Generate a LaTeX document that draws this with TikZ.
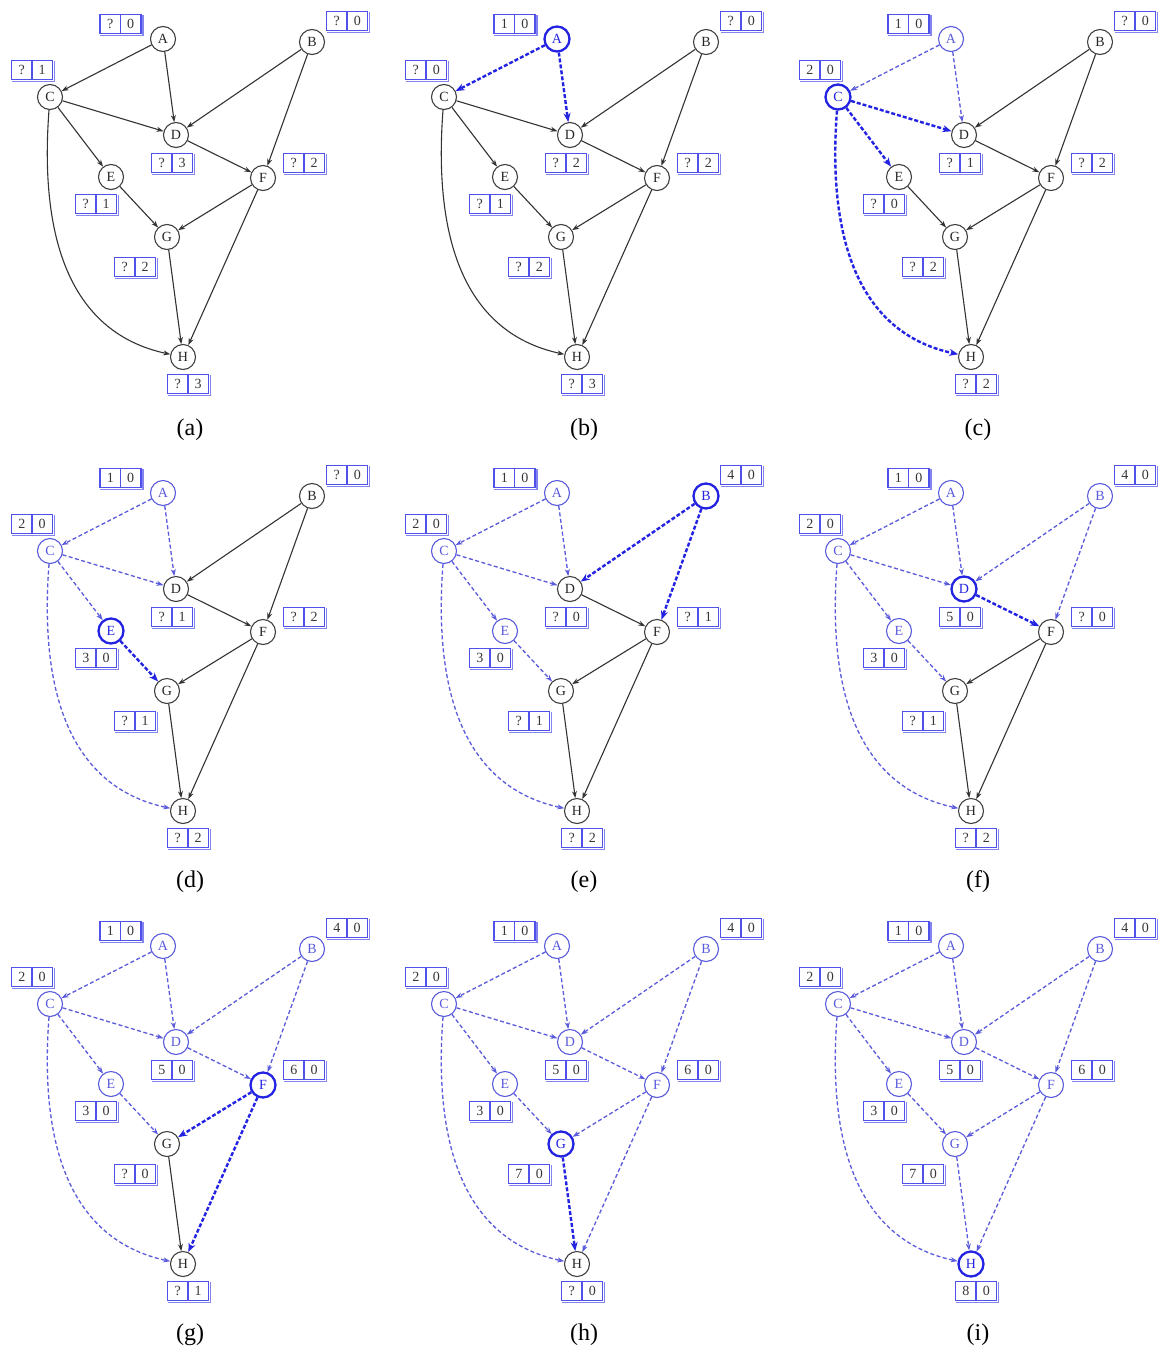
\documentclass[tikz,border=0pt]{standalone}
\usepackage{fontspec}
\setmainfont{Liberation Serif}
\usetikzlibrary{arrows.meta}

\definecolor{doneblue}{RGB}{90,90,220}
\definecolor{curblue}{RGB}{35,35,225}
\definecolor{lblblue}{RGB}{80,80,235}
\definecolor{ink}{RGB}{55,55,55}

\tikzset{
 vtx/.style={circle, draw=black!75, line width=1.1pt, fill=white, minimum size=25pt, inner sep=0pt, font=\fontsize{14}{14}\selectfont, text=black!85},
 vis/.style={draw=doneblue, text=doneblue},
 cur/.style={draw=curblue, text=curblue, line width=2.3pt},
 lbl/.style={draw=lblblue, line width=1.5pt, fill=white, minimum width=41pt, minimum height=19pt, inner sep=0pt, font=\fontsize{14}{14}\selectfont, text=ink},
 lbldiv/.style={draw=lblblue, line width=1.1pt},
 lblshade/.style={draw=lblblue!70, line width=1.4pt},
 conn/.style={line width=1.1pt, draw=black!80, -{Stealth[length=7pt,width=5pt]}},
 done/.style={draw=doneblue, dash pattern=on 4pt off 2.5pt, line width=1.3pt},
 act/.style={draw=curblue, dash pattern=on 4pt off 2pt, line width=2.4pt, -{Stealth[length=9pt,width=7pt]}},
 captext/.style={font=\fontsize{24}{24}\selectfont, inner sep=0pt},
 nA/.style={}, nB/.style={}, nC/.style={}, nD/.style={},
 nE/.style={}, nF/.style={}, nG/.style={}, nH/.style={},
 eAC/.style={}, eAD/.style={}, eBD/.style={}, eBF/.style={},
 eCD/.style={}, eCE/.style={}, eCH/.style={}, eDF/.style={},
 eEG/.style={}, eFG/.style={}, eFH/.style={}, eGH/.style={},
}

\newcommand\cellpair[2]{\makebox[20.5pt]{#1}\makebox[20.5pt]{#2}}
\newcommand\setlabels[8]{\def\LA{#1}\def\LB{#2}\def\LC{#3}\def\LD{#4}\def\LE{#5}\def\LF{#6}\def\LG{#7}\def\LH{#8}}
\newcommand\lbox[3]{\node[lbl] (#1) at (#2) {\expandafter\cellpair#3};
  \draw[lbldiv] (#1.north) -- (#1.south);
  \draw[lblshade] ([shift={(1.2,1)}]#1.north east) |- ([shift={(1,1.2)}]#1.south west);}

\newcommand\drawgraph{
  \node[vtx,nA] (A) at (163,39) {A};
  \node[vtx,nB] (B) at (312,42) {B};
  \node[vtx,nC] (C) at (50,97) {C};
  \node[vtx,nD] (D) at (176,135) {D};
  \node[vtx,nE] (E) at (111,177) {E};
  \node[vtx,nF] (F) at (263,178) {F};
  \node[vtx,nG] (G) at (167,237) {G};
  \node[vtx,nH] (H) at (183,357) {H};
  \lbox{lA}{120.5,24}{\LA}
  \lbox{lB}{347,21}{\LB}
  \lbox{lC}{32,70}{\LC}
  \lbox{lD}{172,163}{\LD}
  \lbox{lE}{96,204}{\LE}
  \lbox{lF}{304,163}{\LF}
  \lbox{lG}{135,267}{\LG}
  \lbox{lH}{188,384}{\LH}
  \draw[conn,eAC] (A) -- (C);
  \draw[conn,eAD] (A) -- (D);
  \draw[conn,eBD] (B) -- (D);
  \draw[conn,eBF] (B) -- (F);
  \draw[conn,eCD] (C) -- (D);
  \draw[conn,eCE] (C) -- (E);
  \draw[conn,eCH] (C) .. controls (38,255) and (80,335) .. (H);
  \draw[conn,eDF] (D) -- (F);
  \draw[conn,eEG] (E) -- (G);
  \draw[conn,eFG] (F) -- (G);
  \draw[conn,eFH] (F) -- (H);
  \draw[conn,eGH] (G) -- (H);
}

\begin{document}
\begin{tikzpicture}[x=1pt,y=-1pt]
\useasboundingbox[fill=white] (0,0) rectangle (1164,1352);

% (a)
\begin{scope}[shift={(0,0)}, name prefix=a-]
  \setlabels{?0}{?0}{?1}{?3}{?1}{?2}{?2}{?3}
  \drawgraph
  \node[captext] (cap) at (190,430) {(a)};
\end{scope}

% (b)
\begin{scope}[shift={(394,0)}, name prefix=b-]
  \tikzset{nA/.style={cur}, eAC/.style={act}, eAD/.style={act}}
  \setlabels{10}{?0}{?0}{?2}{?1}{?2}{?2}{?3}
  \drawgraph
  \node[captext] (cap) at (190,430) {(b)};
\end{scope}

% (c)
\begin{scope}[shift={(788,0)}, name prefix=c-]
  \tikzset{nA/.style={vis}, nC/.style={cur},
    eAC/.style={done}, eAD/.style={done},
    eCD/.style={act}, eCE/.style={act}, eCH/.style={act}}
  \setlabels{10}{?0}{20}{?1}{?0}{?2}{?2}{?2}
  \drawgraph
  \node[captext] (cap) at (190,430) {(c)};
\end{scope}

% (d)
\begin{scope}[shift={(0,454)}, name prefix=d-]
  \tikzset{nA/.style={vis}, nC/.style={vis}, nE/.style={cur},
    eAC/.style={done}, eAD/.style={done},
    eCD/.style={done}, eCE/.style={done}, eCH/.style={done},
    eEG/.style={act}}
  \setlabels{10}{?0}{20}{?1}{30}{?2}{?1}{?2}
  \drawgraph
  \node[captext] (cap) at (190,428) {(d)};
\end{scope}

% (e)
\begin{scope}[shift={(394,454)}, name prefix=e-]
  \tikzset{nA/.style={vis}, nC/.style={vis}, nE/.style={vis}, nB/.style={cur},
    eAC/.style={done}, eAD/.style={done},
    eCD/.style={done}, eCE/.style={done}, eCH/.style={done},
    eEG/.style={done}, eBD/.style={act}, eBF/.style={act}}
  \setlabels{10}{40}{20}{?0}{30}{?1}{?1}{?2}
  \drawgraph
  \node[captext] (cap) at (190,428) {(e)};
\end{scope}

% (f)
\begin{scope}[shift={(788,454)}, name prefix=f-]
  \tikzset{nA/.style={vis}, nB/.style={vis}, nC/.style={vis}, nE/.style={vis}, nD/.style={cur},
    eAC/.style={done}, eAD/.style={done},
    eCD/.style={done}, eCE/.style={done}, eCH/.style={done},
    eEG/.style={done}, eBD/.style={done}, eBF/.style={done},
    eDF/.style={act}}
  \setlabels{10}{40}{20}{50}{30}{?0}{?1}{?2}
  \drawgraph
  \node[captext] (cap) at (190,428) {(f)};
\end{scope}

% (g)
\begin{scope}[shift={(0,907)}, name prefix=g-]
  \tikzset{nA/.style={vis}, nB/.style={vis}, nC/.style={vis}, nD/.style={vis}, nE/.style={vis}, nF/.style={cur},
    eAC/.style={done}, eAD/.style={done},
    eCD/.style={done}, eCE/.style={done}, eCH/.style={done},
    eEG/.style={done}, eBD/.style={done}, eBF/.style={done},
    eDF/.style={done}, eFG/.style={act}, eFH/.style={act}}
  \setlabels{10}{40}{20}{50}{30}{60}{?0}{?1}
  \drawgraph
  \node[captext] (cap) at (190,428) {(g)};
\end{scope}

% (h)
\begin{scope}[shift={(394,907)}, name prefix=h-]
  \tikzset{nA/.style={vis}, nB/.style={vis}, nC/.style={vis}, nD/.style={vis}, nE/.style={vis}, nF/.style={vis}, nG/.style={cur},
    eAC/.style={done}, eAD/.style={done},
    eCD/.style={done}, eCE/.style={done}, eCH/.style={done},
    eEG/.style={done}, eBD/.style={done}, eBF/.style={done},
    eDF/.style={done}, eFG/.style={done}, eFH/.style={done},
    eGH/.style={act}}
  \setlabels{10}{40}{20}{50}{30}{60}{70}{?0}
  \drawgraph
  \node[captext] (cap) at (190,428) {(h)};
\end{scope}

% (i)
\begin{scope}[shift={(788,907)}, name prefix=i-]
  \tikzset{nA/.style={vis}, nB/.style={vis}, nC/.style={vis}, nD/.style={vis}, nE/.style={vis}, nF/.style={vis}, nG/.style={vis}, nH/.style={cur},
    eAC/.style={done}, eAD/.style={done},
    eCD/.style={done}, eCE/.style={done}, eCH/.style={done},
    eEG/.style={done}, eBD/.style={done}, eBF/.style={done},
    eDF/.style={done}, eFG/.style={done}, eFH/.style={done},
    eGH/.style={done}}
  \setlabels{10}{40}{20}{50}{30}{60}{70}{80}
  \drawgraph
  \node[captext] (cap) at (190,428) {(i)};
\end{scope}
\end{tikzpicture}
\end{document}
